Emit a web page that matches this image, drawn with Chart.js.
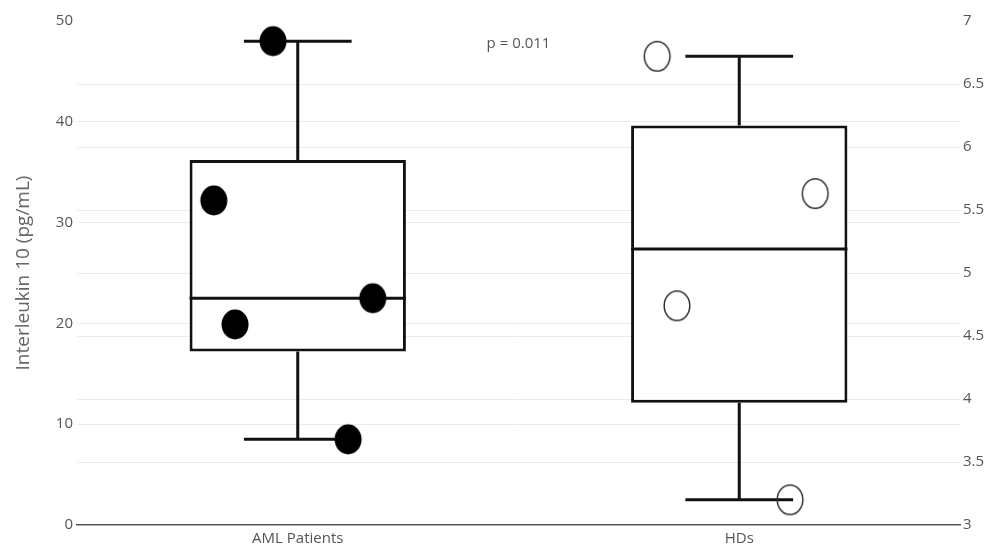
<!DOCTYPE html>
<html>
<head>
<meta charset="utf-8">
<title>Interleukin 10 - AML Patients vs HDs</title>
<script src="https://cdn.jsdelivr.net/npm/chart.js@4.4.1/dist/chart.umd.min.js"></script>
<style>
  html, body { margin: 0; padding: 0; background: #ffffff; }
  #wrap { width: 989px; height: 549px; }
</style>
</head>
<body>
<div id="wrap"><canvas id="il10Chart" width="989" height="549"></canvas></div>
<script>
// ====================================
// DATA
// ====================================
const categories = ["AML Patients", "HDs"];

// box stats: [lower whisker, Q1, median, Q3, upper whisker]
const amlStats = [8.5, 17.2, 22.5, 36.2, 48.0];   // left axis, pg/mL
const hdStats = [3.2, 3.97, 5.19, 6.17, 6.72];    // right axis

// individual samples + horizontal jitter (in category units)
const amlPoints = [48.0, 32.2, 19.9, 22.5, 8.5];
const amlJitter = [-0.056, -0.19, -0.142, 0.17, 0.114];
const hdPoints = [6.72, 5.63, 4.74, 3.2];
const hdJitter = [-0.186, 0.172, -0.141, 0.115];

const leftTicks = [0, 10, 20, 30, 40, 50];
const rightTicks = [3, 3.5, 4, 4.5, 5, 5.5, 6, 6.5, 7];

const pLabel = "p = 0.011";

// ====================================
// HELPERS
// ====================================
const BOX_HALF = 0.245;
const CAP_HALF = 0.122;
const LINE = "#111111";

function whiskerData(center, stats) {
  const lo = stats[0], q1 = stats[1], q3 = stats[3], hi = stats[4];
  return [
    { x: center - CAP_HALF, y: hi }, { x: center + CAP_HALF, y: hi }, { x: center, y: null },
    { x: center, y: hi }, { x: center, y: q3 }, { x: center, y: null },
    { x: center, y: q1 }, { x: center, y: lo }, { x: center, y: null },
    { x: center - CAP_HALF, y: lo }, { x: center + CAP_HALF, y: lo },
  ];
}

function medianData(center, stats) {
  return [
    { x: center - BOX_HALF, y: stats[2] },
    { x: center + BOX_HALF, y: stats[2] },
  ];
}

function pointData(center, values, jitter) {
  return values.map(function (v, i) {
    return { x: center + jitter[i], y: v };
  });
}

// slightly tall dots, like the source picture
function makeDot(filled) {
  const c = document.createElement("canvas");
  c.width = 30;
  c.height = 33;
  const g = c.getContext("2d");
  g.beginPath();
  if (filled) {
    g.ellipse(15, 16.5, 13.5, 15, 0, 0, Math.PI * 2);
    g.fillStyle = "#000000";
    g.fill();
  } else {
    g.ellipse(15, 16.5, 12.8, 14.8, 0, 0, Math.PI * 2);
    g.lineWidth = 1.5;
    g.strokeStyle = "#333333";
    g.stroke();
  }
  return c;
}

function gridColor(ctx) {
  const s = ctx.scale;
  if (!ctx.tick || ctx.tick.value === s.min || ctx.tick.value === s.max) {
    return "rgba(0,0,0,0)";
  }
  return "#ebebeb";
}

// p-value annotation
const pValuePlugin = {
  id: "pValue",
  afterDatasetsDraw(chart) {
    const { ctx, scales } = chart;
    ctx.save();
    ctx.font = "15px 'Open Sans', sans-serif";
    ctx.fillStyle = "#555555";
    ctx.textAlign = "center";
    ctx.textBaseline = "middle";
    ctx.fillText(pLabel, scales.x.getPixelForValue(0.5), scales.y.getPixelForValue(47.7));
    ctx.restore();
  },
};

// ====================================
// CHART
// ====================================
Chart.defaults.font.family = "'Open Sans', sans-serif";

const ctx = document.getElementById("il10Chart").getContext("2d");
new Chart(ctx, {
  type: "scatter",
  data: {
    datasets: [
      {
        type: "bar",
        data: [{ x: 0, y: [amlStats[1], amlStats[3]] }],
        yAxisID: "y",
        backgroundColor: "#ffffff",
        borderColor: LINE,
        borderWidth: 3,
        borderSkipped: false,
        grouped: false,
        categoryPercentage: 1,
        barPercentage: BOX_HALF * 2,
        order: 5,
      },
      {
        type: "bar",
        data: [{ x: 1, y: [hdStats[1], hdStats[3]] }],
        yAxisID: "y1",
        backgroundColor: "#ffffff",
        borderColor: LINE,
        borderWidth: 3,
        borderSkipped: false,
        grouped: false,
        categoryPercentage: 1,
        barPercentage: BOX_HALF * 2,
        order: 5,
      },
      {
        data: whiskerData(0, amlStats),
        yAxisID: "y",
        showLine: true,
        borderColor: LINE,
        borderWidth: 3,
        pointRadius: 0,
        order: 2,
      },
      {
        data: whiskerData(1, hdStats),
        yAxisID: "y1",
        showLine: true,
        borderColor: LINE,
        borderWidth: 3,
        pointRadius: 0,
        order: 2,
      },
      {
        data: medianData(0, amlStats),
        yAxisID: "y",
        showLine: true,
        borderColor: LINE,
        borderWidth: 3,
        pointRadius: 0,
        order: 2,
      },
      {
        data: medianData(1, hdStats),
        yAxisID: "y1",
        showLine: true,
        borderColor: LINE,
        borderWidth: 3,
        pointRadius: 0,
        order: 2,
      },
      {
        data: pointData(0, amlPoints, amlJitter),
        yAxisID: "y",
        pointStyle: makeDot(true),
        pointRadius: 15,
        order: 0,
      },
      {
        data: pointData(1, hdPoints, hdJitter),
        yAxisID: "y1",
        pointStyle: makeDot(false),
        pointRadius: 15,
        order: 0,
      },
    ],
  },
  options: {
    responsive: false,
    animation: false,
    clip: false,
    layout: { padding: { top: 21, left: 0, right: 0, bottom: 0 } },
    plugins: {
      legend: { display: false },
      tooltip: { enabled: false },
    },
    scales: {
      x: {
        type: "linear",
        min: -0.5,
        max: 1.5,
        offset: false,
        afterBuildTicks: function (scale) {
          scale.ticks = categories.map(function (c, i) { return { value: i }; });
        },
        afterFit: function (scale) { scale.height = 24; },
        ticks: {
          color: "#555555",
          font: { size: 15 },
          padding: 5,
          callback: function (v) { return categories[v]; },
        },
        grid: { display: false, drawTicks: false },
        border: { display: true, color: "#555555", width: 1.5 },
      },
      y: {
        position: "left",
        min: 0,
        max: 50,
        afterBuildTicks: function (scale) {
          scale.ticks = leftTicks.map(function (v) { return { value: v }; });
        },
        afterFit: function (scale) { scale.width = 77; },
        ticks: { color: "#555555", font: { size: 15 }, padding: 4 },
        grid: { color: gridColor, drawTicks: false },
        border: { display: false },
        title: {
          display: true,
          text: "Interleukin 10 (pg/mL)",
          color: "#666666",
          font: { size: 19 },
          padding: { top: 12, bottom: 0 },
        },
      },
      y1: {
        position: "right",
        min: 3,
        max: 7,
        afterBuildTicks: function (scale) {
          scale.ticks = rightTicks.map(function (v) { return { value: v }; });
        },
        afterFit: function (scale) { scale.width = 29; },
        ticks: {
          color: "#555555",
          font: { size: 15 },
          padding: 3,
          callback: function (v) { return String(v); },
        },
        grid: { color: gridColor, drawTicks: false },
        border: { display: false },
      },
    },
  },
  plugins: [pValuePlugin],
});
</script>
</body>
</html>
